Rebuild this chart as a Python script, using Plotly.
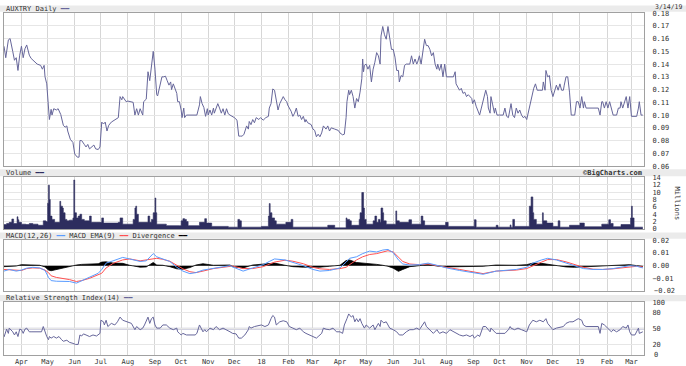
import plotly.graph_objects as go

# ---------------- data ----------------
price_points = [
    ("2017-03-12", 0.154), ("2017-03-14", 0.145), ("2017-03-17", 0.159), ("2017-03-19", 0.160),
    ("2017-03-22", 0.150), ("2017-03-24", 0.143), ("2017-03-26", 0.145), ("2017-03-28", 0.135),
    ("2017-03-30", 0.147), ("2017-04-01", 0.154), ("2017-04-03", 0.145), ("2017-04-05", 0.152),
    ("2017-04-07", 0.155), ("2017-04-10", 0.147), ("2017-04-12", 0.1445), ("2017-04-16", 0.142),
    ("2017-04-19", 0.140), ("2017-04-23", 0.139), ("2017-04-25", 0.136), ("2017-04-27", 0.139),
    ("2017-04-28", 0.130), ("2017-04-30", 0.1245), ("2017-05-02", 0.108), ("2017-05-03", 0.0965),
    ("2017-05-05", 0.1045), ("2017-05-06", 0.100), ("2017-05-08", 0.105), ("2017-05-11", 0.104),
    ("2017-05-13", 0.105), ("2017-05-16", 0.1005), ("2017-05-19", 0.092), ("2017-05-21", 0.0905),
    ("2017-05-23", 0.0915), ("2017-05-24", 0.0875), ("2017-05-27", 0.081), ("2017-05-30", 0.0785),
    ("2017-06-01", 0.0695), ("2017-06-04", 0.067), ("2017-06-06", 0.067), ("2017-06-07", 0.080),
    ("2017-06-09", 0.080), ("2017-06-11", 0.0785), ("2017-06-12", 0.077), ("2017-06-14", 0.075),
    ("2017-06-16", 0.077), ("2017-06-18", 0.0735), ("2017-06-20", 0.075), ("2017-06-23", 0.0765),
    ("2017-06-25", 0.0735), ("2017-06-28", 0.073), ("2017-06-30", 0.075), ("2017-07-02", 0.0945),
    ("2017-07-04", 0.093), ("2017-07-06", 0.0945), ("2017-07-08", 0.0875), ("2017-07-10", 0.092),
    ("2017-07-13", 0.0945), ("2017-07-17", 0.096), ("2017-07-21", 0.098), ("2017-07-23", 0.1145),
    ("2017-07-25", 0.112), ("2017-07-26", 0.1145), ("2017-07-30", 0.1105), ("2017-08-01", 0.111),
    ("2017-08-05", 0.1105), ("2017-08-07", 0.110), ("2017-08-09", 0.100), ("2017-08-11", 0.105),
    ("2017-08-13", 0.100), ("2017-08-15", 0.105), ("2017-08-18", 0.100), ("2017-08-19", 0.1105),
    ("2017-08-22", 0.1125), ("2017-08-24", 0.134), ("2017-08-26", 0.127), ("2017-08-28", 0.139),
    ("2017-08-30", 0.150), ("2017-09-01", 0.136), ("2017-09-03", 0.116), ("2017-09-04", 0.115),
    ("2017-09-06", 0.121), ("2017-09-09", 0.130), ("2017-09-11", 0.130), ("2017-09-13", 0.1305),
    ("2017-09-15", 0.127), ("2017-09-17", 0.1235), ("2017-09-19", 0.126), ("2017-09-20", 0.120),
    ("2017-09-22", 0.1245), ("2017-09-24", 0.121), ("2017-09-26", 0.117), ("2017-09-27", 0.1105),
    ("2017-09-29", 0.1105), ("2017-10-01", 0.104), ("2017-10-02", 0.098), ("2017-10-04", 0.1055),
    ("2017-10-05", 0.098), ("2017-10-07", 0.100), ("2017-10-11", 0.100), ("2017-10-17", 0.100),
    ("2017-10-19", 0.100), ("2017-10-22", 0.108), ("2017-10-23", 0.1145), ("2017-10-25", 0.109),
    ("2017-10-27", 0.106), ("2017-10-29", 0.099), ("2017-10-31", 0.105), ("2017-11-01", 0.100),
    ("2017-11-03", 0.104), ("2017-11-05", 0.100), ("2017-11-07", 0.1055), ("2017-11-08", 0.1015),
    ("2017-11-10", 0.1055), ("2017-11-12", 0.109), ("2017-11-14", 0.1055), ("2017-11-16", 0.1015),
    ("2017-11-18", 0.105), ("2017-11-20", 0.100), ("2017-11-22", 0.105), ("2017-11-24", 0.101),
    ("2017-11-26", 0.100), ("2017-11-29", 0.099), ("2017-12-01", 0.098), ("2017-12-04", 0.096),
    ("2017-12-06", 0.0835), ("2017-12-08", 0.0835), ("2017-12-10", 0.0835), ("2017-12-12", 0.085),
    ("2017-12-15", 0.0915), ("2017-12-17", 0.089), ("2017-12-18", 0.095), ("2017-12-20", 0.0925),
    ("2017-12-22", 0.0965), ("2017-12-24", 0.094), ("2017-12-26", 0.098), ("2017-12-29", 0.0965),
    ("2017-12-31", 0.098), ("2018-01-03", 0.096), ("2018-01-06", 0.098), ("2018-01-09", 0.099),
    ("2018-01-10", 0.1055), ("2018-01-12", 0.109), ("2018-01-14", 0.1205), ("2018-01-16", 0.1195),
    ("2018-01-18", 0.1105), ("2018-01-20", 0.104), ("2018-01-22", 0.109), ("2018-01-24", 0.112),
    ("2018-01-26", 0.1145), ("2018-01-28", 0.112), ("2018-01-30", 0.1105), ("2018-01-31", 0.108),
    ("2018-02-02", 0.106), ("2018-02-04", 0.103), ("2018-02-06", 0.099), ("2018-02-08", 0.1015),
    ("2018-02-10", 0.1055), ("2018-02-12", 0.099), ("2018-02-14", 0.100), ("2018-02-16", 0.0965),
    ("2018-02-18", 0.099), ("2018-02-20", 0.0945), ("2018-02-21", 0.0965), ("2018-02-23", 0.094),
    ("2018-02-27", 0.0925), ("2018-03-01", 0.089), ("2018-03-03", 0.088), ("2018-03-05", 0.083),
    ("2018-03-07", 0.085), ("2018-03-09", 0.083), ("2018-03-11", 0.086), ("2018-03-13", 0.0915),
    ("2018-03-16", 0.089), ("2018-03-18", 0.0915), ("2018-03-20", 0.0875), ("2018-03-22", 0.090),
    ("2018-03-26", 0.089), ("2018-03-30", 0.088), ("2018-04-01", 0.086), ("2018-04-04", 0.0845),
    ("2018-04-06", 0.085), ("2018-04-08", 0.098), ("2018-04-09", 0.1105), ("2018-04-11", 0.1195),
    ("2018-04-12", 0.116), ("2018-04-14", 0.1195), ("2018-04-16", 0.1145), ("2018-04-18", 0.1055),
    ("2018-04-20", 0.113), ("2018-04-22", 0.1105), ("2018-04-24", 0.118), ("2018-04-26", 0.1285),
    ("2018-04-27", 0.144), ("2018-04-28", 0.134), ("2018-04-29", 0.139), ("2018-05-01", 0.140),
    ("2018-05-03", 0.136), ("2018-05-05", 0.139), ("2018-05-07", 0.126), ("2018-05-09", 0.136),
    ("2018-05-11", 0.1415), ("2018-05-13", 0.149), ("2018-05-15", 0.1465), ("2018-05-17", 0.140),
    ("2018-05-18", 0.162), ("2018-05-20", 0.1695), ("2018-05-22", 0.163), ("2018-05-24", 0.1595),
    ("2018-05-26", 0.1695), ("2018-05-28", 0.162), ("2018-05-30", 0.1515), ("2018-06-01", 0.1515),
    ("2018-06-03", 0.1455), ("2018-06-05", 0.135), ("2018-06-07", 0.135), ("2018-06-08", 0.126),
    ("2018-06-10", 0.131), ("2018-06-12", 0.130), ("2018-06-14", 0.139), ("2018-06-16", 0.140),
    ("2018-06-20", 0.140), ("2018-06-22", 0.1465), ("2018-06-24", 0.140), ("2018-06-26", 0.144),
    ("2018-06-28", 0.140), ("2018-06-29", 0.1415), ("2018-07-01", 0.1465), ("2018-07-03", 0.140),
    ("2018-07-05", 0.1515), ("2018-07-07", 0.1595), ("2018-07-09", 0.1545), ("2018-07-11", 0.1545),
    ("2018-07-13", 0.1515), ("2018-07-15", 0.1465), ("2018-07-17", 0.149), ("2018-07-19", 0.140),
    ("2018-07-21", 0.136), ("2018-07-22", 0.140), ("2018-07-24", 0.135), ("2018-07-26", 0.140),
    ("2018-07-28", 0.130), ("2018-07-30", 0.140), ("2018-08-01", 0.130), ("2018-08-04", 0.130),
    ("2018-08-07", 0.130), ("2018-08-09", 0.130), ("2018-08-11", 0.134), ("2018-08-12", 0.1245),
    ("2018-08-14", 0.122), ("2018-08-16", 0.1195), ("2018-08-18", 0.121), ("2018-08-20", 0.117),
    ("2018-08-22", 0.118), ("2018-08-24", 0.1145), ("2018-08-26", 0.116), ("2018-08-28", 0.1145),
    ("2018-08-30", 0.113), ("2018-08-31", 0.109), ("2018-09-02", 0.112), ("2018-09-04", 0.107),
    ("2018-09-06", 0.104), ("2018-09-08", 0.100), ("2018-09-10", 0.1055), ("2018-09-12", 0.1105),
    ("2018-09-15", 0.1195), ("2018-09-17", 0.1145), ("2018-09-18", 0.1055), ("2018-09-20", 0.1015),
    ("2018-09-21", 0.1145), ("2018-09-23", 0.108), ("2018-09-25", 0.1015), ("2018-09-26", 0.1055),
    ("2018-09-28", 0.100), ("2018-10-01", 0.100), ("2018-10-05", 0.100), ("2018-10-07", 0.1055),
    ("2018-10-09", 0.099), ("2018-10-11", 0.098), ("2018-10-13", 0.1055), ("2018-10-14", 0.109),
    ("2018-10-16", 0.100), ("2018-10-18", 0.098), ("2018-10-20", 0.1055), ("2018-10-22", 0.1015),
    ("2018-10-24", 0.104), ("2018-10-26", 0.100), ("2018-10-28", 0.098), ("2018-10-30", 0.099),
    ("2018-11-01", 0.0965), ("2018-11-04", 0.1055), ("2018-11-06", 0.113), ("2018-11-09", 0.121),
    ("2018-11-11", 0.1245), ("2018-11-13", 0.1195), ("2018-11-16", 0.1195), ("2018-11-19", 0.1195),
    ("2018-11-20", 0.126), ("2018-11-22", 0.1195), ("2018-11-23", 0.135), ("2018-11-25", 0.130),
    ("2018-11-27", 0.131), ("2018-11-29", 0.1195), ("2018-12-01", 0.1145), ("2018-12-03", 0.1195),
    ("2018-12-05", 0.1235), ("2018-12-07", 0.1195), ("2018-12-09", 0.1245), ("2018-12-11", 0.1195),
    ("2018-12-13", 0.1195), ("2018-12-14", 0.1235), ("2018-12-16", 0.130), ("2018-12-18", 0.130),
    ("2018-12-20", 0.118), ("2018-12-22", 0.100), ("2018-12-26", 0.100), ("2018-12-28", 0.1105),
    ("2018-12-30", 0.1105), ("2019-01-01", 0.1055), ("2019-01-03", 0.1145), ("2019-01-05", 0.1055),
    ("2019-01-06", 0.1105), ("2019-01-08", 0.1055), ("2019-01-12", 0.1055), ("2019-01-16", 0.1055),
    ("2019-01-22", 0.1055), ("2019-01-24", 0.100), ("2019-01-26", 0.1105), ("2019-01-27", 0.1105),
    ("2019-01-29", 0.1055), ("2019-01-31", 0.1105), ("2019-02-02", 0.1055), ("2019-02-04", 0.1105),
    ("2019-02-06", 0.1055), ("2019-02-08", 0.100), ("2019-02-12", 0.100), ("2019-02-14", 0.1055),
    ("2019-02-16", 0.1055), ("2019-02-17", 0.1105), ("2019-02-19", 0.1055), ("2019-02-21", 0.1105),
    ("2019-02-23", 0.1145), ("2019-02-25", 0.1055), ("2019-02-27", 0.1145), ("2019-03-01", 0.099),
    ("2019-03-05", 0.099), ("2019-03-07", 0.099), ("2019-03-09", 0.1055), ("2019-03-10", 0.1105),
    ("2019-03-12", 0.100), ("2019-03-14", 0.100),
]

# volume, millions
volume_points = [
    ("2017-03-12", 1.2), ("2017-03-15", 1.5), ("2017-03-18", 1.8), ("2017-03-21", 2.7),
    ("2017-03-23", 1.5), ("2017-03-27", 3.3), ("2017-03-28", 2.5), ("2017-03-29", 1.8),
    ("2017-04-01", 1.3), ("2017-04-06", 1.2), ("2017-04-10", 1.5), ("2017-04-14", 1.3),
    ("2017-04-20", 1.0), ("2017-04-26", 2.2), ("2017-04-29", 2.0), ("2017-05-01", 7.0),
    ("2017-05-02", 11.9), ("2017-05-03", 8.0), ("2017-05-04", 3.5), ("2017-05-06", 2.6),
    ("2017-05-09", 1.8), ("2017-05-15", 7.5), ("2017-05-16", 6.2), ("2017-05-18", 5.7),
    ("2017-05-19", 4.4), ("2017-05-21", 2.6), ("2017-05-23", 2.2), ("2017-05-26", 2.4),
    ("2017-05-30", 3.0), ("2017-05-31", 13.3), ("2017-06-01", 4.4), ("2017-06-03", 3.0),
    ("2017-06-05", 3.5), ("2017-06-07", 4.0), ("2017-06-09", 2.6), ("2017-06-12", 2.2),
    ("2017-06-16", 2.2), ("2017-06-18", 3.5), ("2017-06-20", 1.8), ("2017-06-26", 1.8),
    ("2017-07-02", 3.0), ("2017-07-04", 1.6), ("2017-07-15", 1.6), ("2017-07-21", 1.8),
    ("2017-07-23", 3.0), ("2017-07-26", 1.3), ("2017-08-07", 2.6), ("2017-08-09", 5.7),
    ("2017-08-10", 6.2), ("2017-08-11", 4.0), ("2017-08-13", 1.8), ("2017-08-24", 3.5),
    ("2017-08-26", 1.8), ("2017-08-28", 2.6), ("2017-08-30", 4.4), ("2017-09-01", 8.4),
    ("2017-09-02", 4.4), ("2017-09-03", 1.3), ("2017-09-14", 0.9), ("2017-09-29", 0.9),
    ("2017-10-01", 2.2), ("2017-10-03", 2.8), ("2017-10-05", 2.6), ("2017-10-07", 2.0),
    ("2017-10-09", 0.9), ("2017-10-22", 1.8), ("2017-10-28", 2.8), ("2017-10-30", 1.6),
    ("2017-11-05", 0.7), ("2017-11-24", 0.5), ("2017-12-05", 2.6), ("2017-12-07", 2.2),
    ("2017-12-09", 0.5), ("2018-01-01", 0.7), ("2018-01-09", 3.5), ("2018-01-10", 6.9),
    ("2018-01-11", 4.4), ("2018-01-13", 3.0), ("2018-01-16", 2.2), ("2018-01-18", 1.3),
    ("2018-01-29", 1.8), ("2018-02-04", 2.6), ("2018-02-06", 0.5), ("2018-03-09", 0.5),
    ("2018-03-18", 1.0), ("2018-03-26", 0.3), ("2018-04-08", 3.0), ("2018-04-09", 2.6),
    ("2018-04-12", 2.2), ("2018-04-14", 1.0), ("2018-04-23", 2.6), ("2018-04-24", 4.4),
    ("2018-04-26", 9.9), ("2018-04-28", 5.7), ("2018-04-29", 2.6), ("2018-05-01", 1.3),
    ("2018-05-09", 2.2), ("2018-05-11", 3.5), ("2018-05-13", 1.8), ("2018-05-15", 2.6),
    ("2018-05-17", 1.8), ("2018-05-18", 5.7), ("2018-05-20", 4.4), ("2018-05-21", 2.2),
    ("2018-05-24", 1.3), ("2018-06-04", 4.9), ("2018-06-05", 2.2), ("2018-06-08", 1.8),
    ("2018-06-19", 2.5), ("2018-06-22", 1.3), ("2018-07-03", 3.5), ("2018-07-05", 2.2),
    ("2018-07-07", 1.0), ("2018-07-31", 1.8), ("2018-08-03", 0.7), ("2018-09-02", 2.5),
    ("2018-09-04", 0.5), ("2018-09-27", 1.0), ("2018-09-29", 0.5), ("2018-10-13", 1.1),
    ("2018-10-14", 0.5), ("2018-10-16", 2.6), ("2018-10-18", 0.7), ("2018-11-04", 6.2),
    ("2018-11-06", 8.7), ("2018-11-08", 4.4), ("2018-11-09", 2.6), ("2018-11-12", 1.3),
    ("2018-11-19", 4.4), ("2018-11-20", 2.2), ("2018-11-24", 1.6), ("2018-12-01", 0.7),
    ("2018-12-07", 2.2), ("2018-12-09", 0.5), ("2018-12-20", 1.0), ("2019-01-01", 1.6),
    ("2019-01-06", 0.6), ("2019-01-26", 1.3), ("2019-02-03", 2.5), ("2019-02-05", 1.5),
    ("2019-02-08", 0.6), ("2019-02-17", 1.2), ("2019-02-28", 3.0), ("2019-03-01", 6.2),
    ("2019-03-02", 3.0), ("2019-03-04", 0.5), ("2019-03-14", 0.5),
]

# (date, MACD(12,26), MACD EMA(9), divergence)
macd_points = [
    ("2017-03-12", -0.0043, -0.0030, -0.0008), ("2017-03-18", -0.0030, -0.0033, -0.0008),
    ("2017-03-26", -0.0043, -0.0037, -0.0003), ("2017-04-01", -0.0035, -0.0038, 0.0008),
    ("2017-04-07", -0.0020, -0.0023, 0.0008), ("2017-04-14", -0.0013, -0.0018, 0.0008),
    ("2017-04-22", -0.0018, -0.0020, 0.0003), ("2017-04-28", -0.0038, -0.0035, -0.0010),
    ("2017-05-02", -0.0093, -0.0055, -0.0035), ("2017-05-05", -0.0118, -0.0080, -0.0040),
    ("2017-05-11", -0.0123, -0.0093, -0.0030), ("2017-05-19", -0.0125, -0.0102, -0.0015),
    ("2017-05-26", -0.0125, -0.0110, -0.0008), ("2017-06-03", -0.0138, -0.0125, 0.0005),
    ("2017-06-09", -0.0118, -0.0118, 0.0010), ("2017-06-18", -0.0093, -0.0100, 0.0012),
    ("2017-06-28", -0.0060, -0.0075, 0.0015), ("2017-07-02", -0.0030, -0.0060, 0.0028),
    ("2017-07-07", 0.0020, -0.0018, 0.0030), ("2017-07-15", 0.0038, 0.0018, 0.0020),
    ("2017-07-26", 0.0065, 0.0045, 0.0018), ("2017-08-03", 0.0053, 0.0053, 0.0003),
    ("2017-08-15", 0.0033, 0.0038, -0.0012), ("2017-08-22", 0.0038, 0.0045, -0.0010),
    ("2017-08-28", 0.0083, 0.0055, 0.0020), ("2017-08-30", 0.0095, 0.0058, 0.0025),
    ("2017-09-03", 0.0070, 0.0058, 0.0005), ("2017-09-10", 0.0053, 0.0050, 0.0003),
    ("2017-09-18", 0.0033, 0.0035, -0.0008), ("2017-09-26", -0.0013, 0.0003, -0.0025),
    ("2017-10-03", -0.0043, -0.0025, -0.0028), ("2017-10-11", -0.0063, -0.0048, -0.0015),
    ("2017-10-18", -0.0055, -0.0055, 0.0005), ("2017-10-26", -0.0035, -0.0043, 0.0015),
    ("2017-11-07", -0.0023, -0.0023, 0.0003), ("2017-11-18", -0.0013, -0.0013, 0.0003),
    ("2017-11-26", 0.0000, -0.0008, 0.0005), ("2017-11-29", -0.0010, -0.0003, -0.0008),
    ("2017-12-11", -0.0043, -0.0023, -0.0018), ("2017-12-22", -0.0018, -0.0023, 0.0005),
    ("2018-01-03", 0.0008, -0.0008, 0.0012), ("2018-01-10", 0.0033, 0.0008, 0.0018),
    ("2018-01-16", 0.0053, 0.0028, 0.0020), ("2018-01-28", 0.0045, 0.0043, 0.0003),
    ("2018-02-06", 0.0028, 0.0035, -0.0008), ("2018-02-18", 0.0000, 0.0015, -0.0012),
    ("2018-03-01", -0.0030, -0.0013, -0.0012), ("2018-03-09", -0.0043, -0.0025, -0.0012),
    ("2018-03-20", -0.0038, -0.0030, -0.0005), ("2018-04-01", -0.0018, -0.0023, 0.0003),
    ("2018-04-08", 0.0028, -0.0013, 0.0040), ("2018-04-12", 0.0058, 0.0008, 0.0045),
    ("2018-04-20", 0.0070, 0.0045, 0.0025), ("2018-04-27", 0.0095, 0.0070, 0.0020),
    ("2018-05-05", 0.0115, 0.0088, 0.0020), ("2018-05-13", 0.0108, 0.0095, 0.0010),
    ("2018-05-20", 0.0123, 0.0108, 0.0003), ("2018-05-26", 0.0128, 0.0118, -0.0005),
    ("2018-06-01", 0.0103, 0.0108, -0.0020), ("2018-06-07", 0.0045, 0.0070, -0.0045),
    ("2018-06-12", 0.0013, 0.0033, -0.0030), ("2018-06-20", 0.0005, 0.0013, -0.0008),
    ("2018-07-01", 0.0008, 0.0008, 0.0000), ("2018-07-11", 0.0020, 0.0013, 0.0010),
    ("2018-07-21", 0.0003, 0.0003, -0.0003), ("2018-08-01", -0.0018, -0.0013, -0.0010),
    ("2018-08-16", -0.0038, -0.0030, -0.0008), ("2018-08-31", -0.0055, -0.0048, -0.0005),
    ("2018-09-12", -0.0068, -0.0063, -0.0005), ("2018-09-27", -0.0043, -0.0043, 0.0005),
    ("2018-10-09", -0.0038, -0.0040, 0.0003), ("2018-10-20", -0.0030, -0.0035, 0.0003),
    ("2018-11-01", -0.0013, -0.0023, 0.0008), ("2018-11-08", 0.0020, 0.0000, 0.0020),
    ("2018-11-18", 0.0045, 0.0028, 0.0018), ("2018-11-25", 0.0058, 0.0048, 0.0010),
    ("2018-12-05", 0.0045, 0.0048, -0.0003), ("2018-12-16", 0.0020, 0.0030, -0.0010),
    ("2018-12-26", -0.0005, 0.0008, -0.0013), ("2019-01-05", -0.0023, -0.0013, -0.0010),
    ("2019-01-16", -0.0030, -0.0028, -0.0003), ("2019-01-27", -0.0030, -0.0030, 0.0000),
    ("2019-02-08", -0.0023, -0.0025, 0.0002), ("2019-02-19", -0.0013, -0.0015, 0.0002),
    ("2019-02-27", 0.0000, -0.0008, 0.0008), ("2019-03-07", -0.0005, -0.0005, 0.0000),
    ("2019-03-14", -0.0018, -0.0010, -0.0008),
]

rsi_points = [
    ("2017-03-12", 34), ("2017-03-15", 49), ("2017-03-17", 41), ("2017-03-18", 51), ("2017-03-22", 44),
    ("2017-03-24", 38), ("2017-03-26", 44), ("2017-03-28", 35), ("2017-03-30", 49), ("2017-04-01", 48),
    ("2017-04-03", 41), ("2017-04-05", 49), ("2017-04-07", 51), ("2017-04-10", 44), ("2017-04-12", 44),
    ("2017-04-24", 44), ("2017-04-26", 54), ("2017-04-28", 44), ("2017-04-30", 35), ("2017-05-02", 29),
    ("2017-05-03", 35), ("2017-05-05", 32), ("2017-05-08", 35), ("2017-05-11", 32), ("2017-05-14", 35),
    ("2017-05-17", 29), ("2017-05-19", 26), ("2017-05-23", 28), ("2017-05-26", 24), ("2017-05-30", 22),
    ("2017-06-02", 20), ("2017-06-05", 20), ("2017-06-06", 32), ("2017-06-07", 38), ("2017-06-09", 36),
    ("2017-06-11", 40), ("2017-06-14", 38), ("2017-06-18", 35), ("2017-06-22", 38), ("2017-06-26", 36),
    ("2017-06-30", 41), ("2017-07-01", 66), ("2017-07-04", 63), ("2017-07-05", 57), ("2017-07-07", 66),
    ("2017-07-09", 54), ("2017-07-13", 60), ("2017-07-17", 57), ("2017-07-20", 63), ("2017-07-23", 72),
    ("2017-07-26", 66), ("2017-08-01", 63), ("2017-08-05", 60), ("2017-08-09", 48), ("2017-08-11", 54),
    ("2017-08-15", 48), ("2017-08-18", 51), ("2017-08-20", 57), ("2017-08-24", 72), ("2017-08-26", 60),
    ("2017-08-28", 69), ("2017-08-30", 72), ("2017-09-01", 57), ("2017-09-03", 51), ("2017-09-07", 51),
    ("2017-09-10", 57), ("2017-09-14", 57), ("2017-09-18", 51), ("2017-09-22", 48), ("2017-09-26", 51),
    ("2017-09-27", 44), ("2017-09-29", 41), ("2017-10-01", 38), ("2017-10-03", 41), ("2017-10-07", 38),
    ("2017-10-17", 38), ("2017-10-19", 41), ("2017-10-22", 57), ("2017-10-23", 54), ("2017-10-26", 44),
    ("2017-10-28", 48), ("2017-10-30", 44), ("2017-11-03", 51), ("2017-11-07", 48), ("2017-11-10", 54),
    ("2017-11-14", 48), ("2017-11-18", 51), ("2017-11-22", 48), ("2017-11-26", 44), ("2017-11-29", 41),
    ("2017-12-03", 40), ("2017-12-06", 32), ("2017-12-09", 32), ("2017-12-13", 38), ("2017-12-17", 48),
    ("2017-12-18", 54), ("2017-12-20", 51), ("2017-12-24", 54), ("2017-12-28", 55), ("2018-01-01", 57),
    ("2018-01-05", 54), ("2018-01-09", 57), ("2018-01-12", 69), ("2018-01-14", 75), ("2018-01-16", 72),
    ("2018-01-18", 57), ("2018-01-22", 63), ("2018-01-26", 65), ("2018-01-30", 63), ("2018-02-02", 54),
    ("2018-02-06", 51), ("2018-02-10", 48), ("2018-02-14", 51), ("2018-02-18", 44), ("2018-02-21", 41),
    ("2018-02-25", 38), ("2018-03-01", 35), ("2018-03-05", 32), ("2018-03-07", 35), ("2018-03-11", 41),
    ("2018-03-13", 51), ("2018-03-16", 49), ("2018-03-20", 48), ("2018-03-24", 51), ("2018-03-28", 44),
    ("2018-04-01", 44), ("2018-04-04", 41), ("2018-04-06", 57), ("2018-04-09", 69), ("2018-04-11", 78),
    ("2018-04-14", 72), ("2018-04-16", 75), ("2018-04-18", 63), ("2018-04-20", 69), ("2018-04-22", 63),
    ("2018-04-24", 69), ("2018-04-26", 60), ("2018-04-28", 54), ("2018-04-29", 51), ("2018-05-01", 57),
    ("2018-05-05", 51), ("2018-05-09", 57), ("2018-05-11", 48), ("2018-05-15", 60), ("2018-05-17", 54),
    ("2018-05-18", 66), ("2018-05-21", 61), ("2018-05-24", 63), ("2018-05-26", 57), ("2018-05-28", 51),
    ("2018-06-01", 48), ("2018-06-05", 44), ("2018-06-08", 38), ("2018-06-12", 38), ("2018-06-16", 44),
    ("2018-06-20", 48), ("2018-06-24", 48), ("2018-06-28", 51), ("2018-07-01", 48), ("2018-07-03", 54),
    ("2018-07-07", 63), ("2018-07-09", 54), ("2018-07-13", 48), ("2018-07-17", 41), ("2018-07-21", 48),
    ("2018-07-24", 41), ("2018-07-28", 44), ("2018-08-01", 41), ("2018-08-05", 48), ("2018-08-09", 44),
    ("2018-08-12", 41), ("2018-08-16", 38), ("2018-08-20", 36), ("2018-08-24", 38), ("2018-08-28", 35),
    ("2018-08-31", 38), ("2018-09-02", 32), ("2018-09-06", 38), ("2018-09-08", 35), ("2018-09-10", 44),
    ("2018-09-12", 54), ("2018-09-15", 54), ("2018-09-18", 48), ("2018-09-20", 44), ("2018-09-21", 51),
    ("2018-09-25", 44), ("2018-09-27", 41), ("2018-10-07", 41), ("2018-10-11", 48), ("2018-10-13", 54),
    ("2018-10-14", 51), ("2018-10-18", 48), ("2018-10-22", 51), ("2018-10-26", 48), ("2018-11-01", 44),
    ("2018-11-04", 57), ("2018-11-08", 66), ("2018-11-12", 63), ("2018-11-16", 66), ("2018-11-20", 63),
    ("2018-11-23", 69), ("2018-11-25", 60), ("2018-11-29", 51), ("2018-12-01", 48), ("2018-12-05", 51),
    ("2018-12-13", 54), ("2018-12-16", 60), ("2018-12-20", 63), ("2018-12-24", 63), ("2018-12-30", 69),
    ("2019-01-03", 66), ("2019-01-05", 57), ("2019-01-08", 54), ("2019-01-22", 54), ("2019-01-24", 41),
    ("2019-01-26", 60), ("2019-01-29", 57), ("2019-02-02", 51), ("2019-02-06", 44), ("2019-02-08", 48),
    ("2019-02-12", 44), ("2019-02-16", 48), ("2019-02-19", 54), ("2019-02-23", 51), ("2019-02-25", 57),
    ("2019-02-27", 44), ("2019-03-01", 38), ("2019-03-05", 38), ("2019-03-09", 51), ("2019-03-10", 41),
    ("2019-03-14", 44),
]

month_ticks = [
    "2017-04-01", "2017-05-01", "2017-06-01", "2017-07-01", "2017-08-01", "2017-09-01",
    "2017-10-01", "2017-11-01", "2017-12-01", "2018-01-01", "2018-02-01", "2018-03-01",
    "2018-04-01", "2018-05-01", "2018-06-01", "2018-07-01", "2018-08-01", "2018-09-01",
    "2018-10-01", "2018-11-01", "2018-12-01", "2019-01-01", "2019-02-01", "2019-03-01",
]
month_labels = ["Apr", "May", "Jun", "Jul", "Aug", "Sep", "Oct", "Nov", "Dec", "18", "Feb", "Mar",
                "Apr", "May", "Jun", "Jul", "Aug", "Sep", "Oct", "Nov", "Dec", "19", "Feb", "Mar"]
price_ticks = [0.06, 0.07, 0.08, 0.09, 0.10, 0.11, 0.12, 0.13, 0.14, 0.15, 0.16, 0.17, 0.18]
volume_ticks = [0, 2, 4, 6, 8, 10, 12, 14]
macd_ticks = [-0.02, -0.01, 0.0, 0.01, 0.02]
macd_tick_labels = ["\u22120.02", "\u22120.01", "0.00", "0.01", "0.02"]
rsi_ticks = [0, 20, 50, 80, 100]
rsi_tick_labels = ["0", "20", "50", "80", "100"]

# ---------------- style ----------------
FONT = "DejaVu Sans Mono"
TXT = "#333333"
FRAME = "#a0a0a0"
VGRID = "#d6d6d6"
HGRID = "#e6e6e6"
PRICE_C = "#66669a"
VOL_C = "#2d2d5e"
BLUE_C = "#5a9cff"
RED_C = "#ff5050"
HEAD_BG = "#ebebeb"
XRANGE = ["2017-03-12", "2019-03-15 09:00"]
H = 366.0
W_PLOT = 640.0
L_MARGIN = 4.0

PRICE_DOM = (9.3, 165.7)
VOL_DOM = (177.3, 230.0)
MACD_DOM = (241.6, 293.4)
RSI_DOM = (305.0, 358.8)


def py(px):
    return 1 - px / H


def px_x(px):
    return (px - L_MARGIN) / W_PLOT


p_dates = [d for d, _ in price_points]
p_vals = [v for _, v in price_points]
v_dates = [d for d, _ in volume_points]
v_vals = [v for _, v in volume_points]
m_dates = [r[0] for r in macd_points]
m_macd = [r[1] for r in macd_points]
m_ema = [r[2] for r in macd_points]
m_div = [r[3] for r in macd_points]
r_dates = [d for d, _ in rsi_points]
r_vals = [v for _, v in rsi_points]

fig = go.Figure()
fig.add_trace(go.Scatter(x=p_dates, y=p_vals, mode="lines", line=dict(color=PRICE_C, width=1),
                         xaxis="x", yaxis="y", hoverinfo="skip"))
fig.add_trace(go.Scatter(x=v_dates, y=v_vals, mode="lines", line=dict(color=VOL_C, width=0.6, shape="hv"),
                         fill="tozeroy", fillcolor=VOL_C, xaxis="x2", yaxis="y2", hoverinfo="skip"))
fig.add_trace(go.Scatter(x=m_dates, y=m_div, mode="lines", line=dict(color="#000000", width=0.8),
                         fill="tozeroy", fillcolor="#000000", xaxis="x3", yaxis="y3", hoverinfo="skip"))
fig.add_trace(go.Scatter(x=m_dates, y=m_ema, mode="lines", line=dict(color=RED_C, width=1),
                         xaxis="x3", yaxis="y3", hoverinfo="skip"))
fig.add_trace(go.Scatter(x=m_dates, y=m_macd, mode="lines", line=dict(color=BLUE_C, width=1),
                         xaxis="x3", yaxis="y3", hoverinfo="skip"))
fig.add_trace(go.Scatter(x=r_dates, y=r_vals, mode="lines", line=dict(color=PRICE_C, width=1),
                         xaxis="x4", yaxis="y4", hoverinfo="skip"))

tickfont = dict(family=FONT, size=7, color=TXT)


def xax(anchor, labels, match=True):
    d = dict(domain=[0, 1], anchor=anchor, type="date", range=XRANGE, tickmode="array",
             tickvals=month_ticks, ticktext=month_labels, showticklabels=labels,
             showgrid=True, gridcolor=VGRID, gridwidth=1, showline=True, mirror=True,
             linecolor=FRAME, linewidth=1, zeroline=False, ticks="", ticklen=0,
             tickfont=tickfont, fixedrange=True)
    if match:
        d["matches"] = "x"
    return d


def yax(dom_px, rng, tickvals, anchor, ticktext=None, fmt=None):
    d = dict(domain=[py(dom_px[1]), py(dom_px[0])], range=rng, side="right", anchor=anchor,
             tickmode="array", tickvals=tickvals, showgrid=True, gridcolor=HGRID, gridwidth=1,
             zeroline=False, showline=True, mirror=True, linecolor=FRAME, linewidth=1,
             ticks="outside", ticklen=6, tickcolor="rgba(0,0,0,0)", tickfont=tickfont,
             ticklabeloverflow="allow", fixedrange=True)
    if ticktext is not None:
        d["ticktext"] = ticktext
    if fmt:
        d["tickformat"] = fmt
    return d


shapes = []
# header bars
for top, bot in [(1.5, 8.0), (169.0, 176.0), (233.5, 240.0), (297.5, 304.0)]:
    shapes.append(dict(type="rect", xref="paper", yref="paper", x0=px_x(0), x1=px_x(686),
                       y0=py(bot), y1=py(top), fillcolor=HEAD_BG, line=dict(width=0), layer="below"))
# RSI 50 line
shapes.append(dict(type="line", xref="x4 domain", yref="y4", x0=0, x1=1, y0=50, y1=50,
                   line=dict(color="#c4c4d8", width=2), layer="below"))


def head(text, xpx, ypx, anchor="left", size=7):
    return dict(text=text, xref="paper", yref="paper", x=px_x(xpx), y=py(ypx), xanchor=anchor,
                yanchor="middle", showarrow=False, font=dict(family=FONT, size=size, color=TXT))


annotations = [
    head("AUXTRY Daily <span style='color:%s'>━━</span>" % PRICE_C, 4, 4.8),
    head("3/14/19", 653, 3.4, size=6.5),
    head("Volume <span style='color:%s'>━━</span>" % VOL_C, 4, 172.6),
    head("<b>©BigCharts.com</b>", 644, 172.6, "right"),
    head("MACD(12,26) <span style='color:%s'>━━</span> MACD EMA(9) <span style='color:%s'>━━</span> "
         "Divergence <span style='color:#000000'>━━</span>" % (BLUE_C, RED_C), 4, 236.8),
    head("Relative Strength Index(14) <span style='color:%s'>━━</span>" % PRICE_C, 4, 300.8),
    # bottom tick labels of the MACD and RSI scales (plotly drops them at the domain edge)
    head(macd_tick_labels[0], 652, MACD_DOM[1]),
    head(rsi_tick_labels[0], 652, RSI_DOM[1]),
]
annotations.append(dict(text="Millions", xref="paper", yref="paper", x=px_x(677), y=py(204),
                        xanchor="center", yanchor="middle", showarrow=False, textangle=90,
                        font=dict(family=FONT, size=7, color=TXT)))

fig.update_layout(
    width=686, height=366,
    margin=dict(l=4, r=42, t=0, b=0),
    paper_bgcolor="white", plot_bgcolor="white",
    showlegend=False,
    xaxis=xax("y", False, match=False),
    xaxis2=xax("y2", False),
    xaxis3=xax("y3", False),
    xaxis4=xax("y4", True),
    yaxis=yax(PRICE_DOM, [0.06, 0.18], price_ticks, "x", fmt=".2f"),
    yaxis2=yax(VOL_DOM, [0, 14], volume_ticks, "x2"),
    yaxis3=yax(MACD_DOM, [-0.02, 0.02], macd_ticks[1:], "x3", ticktext=macd_tick_labels[1:]),
    yaxis4=yax(RSI_DOM, [0, 100], rsi_ticks[1:], "x4", ticktext=rsi_tick_labels[1:]),
    shapes=shapes,
    annotations=annotations,
)

fig.write_html("out.html", config={"displayModeBar": False},
               post_script="document.body.style.margin='0px';")
